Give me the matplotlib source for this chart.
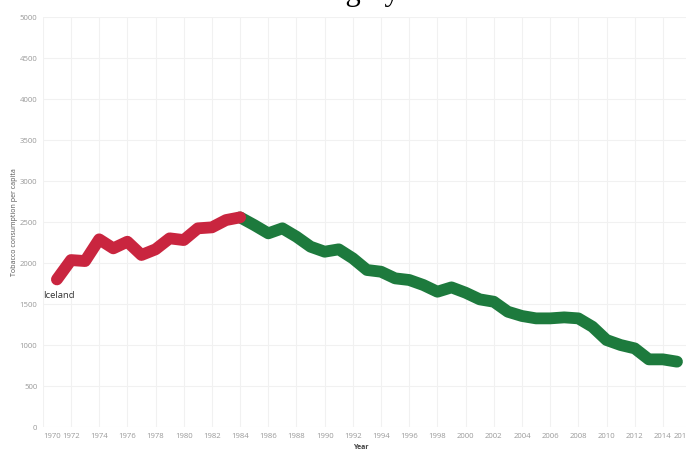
import numpy as np
import matplotlib.pyplot as plt

years = list(range(1971, 2016))
consumption = [1800, 2036, 2024, 2289, 2179, 2260, 2098, 2167, 2301, 2280,
               2423, 2435, 2524, 2557, 2463, 2362, 2423, 2321, 2199, 2138,
               2167, 2057, 1915, 1894, 1813, 1793, 1732, 1650, 1703, 1638,
               1557, 1528, 1406, 1354, 1325, 1325, 1337, 1325, 1223, 1061,
               1000, 959, 825, 825, 797]
peak_year = 1984
x_ticks = list(range(1970, 2017, 2))
y_ticks = list(range(0, 5001, 500))

red = '#c9253f'
green = '#1d7a3d'

x = np.array(years)
y = np.array(consumption)
rising = x <= peak_year
falling = x >= peak_year

fig = plt.figure(figsize=(6.86, 4.51), dpi=100)
ax = fig.add_axes([0.0624, 0.0532, 0.945, 0.909])

ax.plot(x[falling], y[falling], color=green, lw=8.5, solid_capstyle='round',
        solid_joinstyle='round')
ax.plot(x[rising], y[rising], color=red, lw=8.5, solid_capstyle='round',
        solid_joinstyle='round')

ax.set_xlim(1970, 2016)
ax.set_ylim(0, 5000)
ax.set_xticks(x_ticks)
ax.set_xticklabels([str(t) for t in x_ticks], family='Open Sans')
ax.set_yticks(y_ticks)
ax.set_yticklabels([str(t) for t in y_ticks], family='Open Sans')
ax.tick_params(axis='both', length=0, labelsize=5.6, labelcolor='#9a9a9a', pad=4)
labels = ax.get_xticklabels()
labels[0].set_ha('left')
labels[-1].set_ha('right')

ax.grid(True, color='#f1f1f1', lw=0.8)
ax.set_axisbelow(True)
for s in ax.spines.values():
    s.set_visible(False)

ax.set_xlabel('Year', fontsize=5, fontweight='bold', color='#444444',
              family='Open Sans', va='center')
ax.xaxis.set_label_coords(0.49, -0.049)
ax.set_ylabel('Tobacco consumption per capita', fontsize=5, color='#555555',
              family='Open Sans', va='center')
ax.yaxis.set_label_coords(-0.043, 0.5)

ax.text(1970.0, 1610, 'Iceland', fontsize=6.8, color='#333333',
        ha='left', va='center', family='Open Sans')

fig.text(0.583, 1.0, 'Hungary', fontsize=22, family='Liberation Serif',
         ha='right', va='baseline', color='black')

fig.savefig('out.png', dpi=100)
